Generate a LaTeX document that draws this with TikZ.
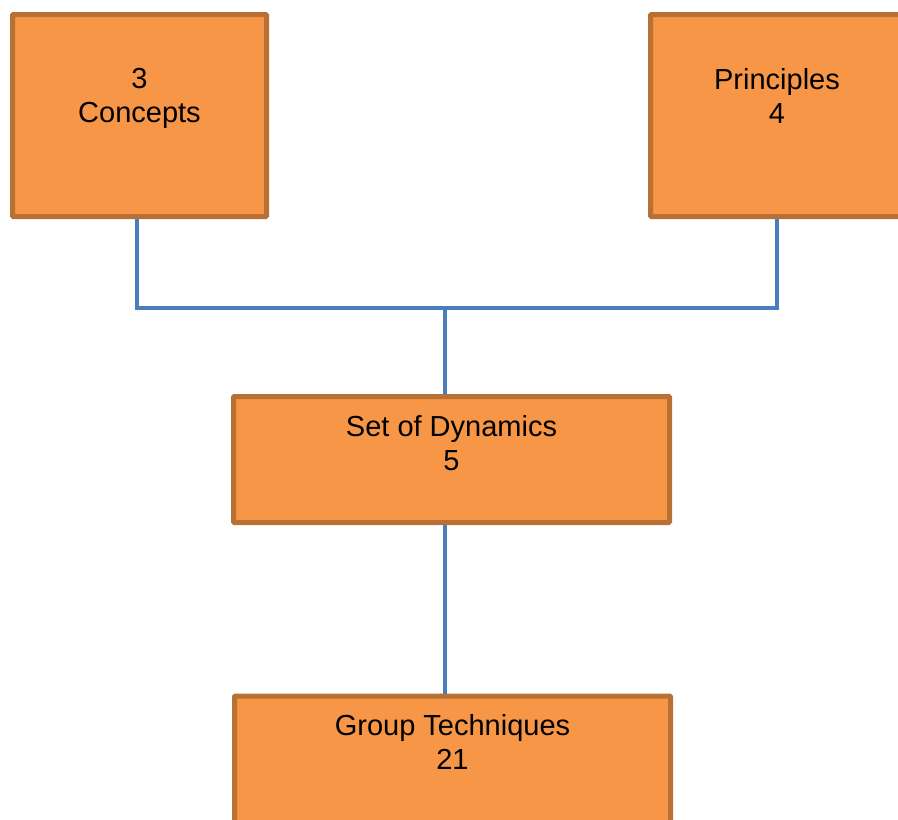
\documentclass[tikz,border=0pt]{standalone}
\usepackage{fontspec}
\setmainfont{Liberation Sans}
\usetikzlibrary{calc}
\definecolor{boxfill}{HTML}{F79646}
\definecolor{boxedge}{RGB}{185,112,53}
\definecolor{linkblue}{HTML}{4A7EBB}
\tikzset{
	box/.style={draw=boxedge, fill=boxfill, line width=5pt, rounded corners=1pt, inner sep=0pt},
	lbl/.style={anchor=north, align=center, inner sep=0pt, font=\fontsize{29}{34}\selectfont},
	link/.style={draw=linkblue, line width=4.5pt}
}
\begin{document}
\begin{tikzpicture}[x=1pt,y=-1pt]
		\path[use as bounding box, clip] (0,0) rectangle (898,820);
		\node[box, minimum width=254pt, minimum height=202pt] (concepts) at (139.5,115.5) {};
		\node[box, minimum width=253pt, minimum height=202pt] (principles) at (777,115.5) {};
		\node[box, minimum width=436pt, minimum height=126pt] (dynamics) at (451.5,459.5) {};
		\node[box, minimum width=436pt, minimum height=140pt] (techniques) at (452.5,766) {};
		\node[lbl] (conceptstext) at ([yshift=-56pt]concepts.north) {3\\Concepts};
		\node[lbl] (principlestext) at ([yshift=-56pt]principles.north) {Principles\\4};
		\node[lbl] (dynamicstext) at ([yshift=-21pt]dynamics.north) {Set of Dynamics\\5};
		\node[lbl] (techniquestext) at ([yshift=-21pt]techniques.north) {Group Techniques\\21};
		\coordinate (hub) at (445,308);
		\draw[link] ([xshift=-2.5pt]concepts.south) |- (hub) -| (principles.south);
		\draw[link] (hub) -- (hub |- dynamics.north);
		\draw[link] (dynamics.south -| hub) -- (techniques.north -| hub);
	\end{tikzpicture}
\end{document}
